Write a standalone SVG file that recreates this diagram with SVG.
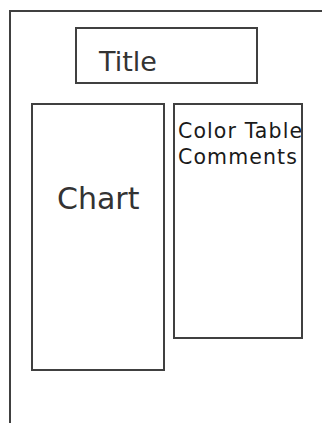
<svg xmlns="http://www.w3.org/2000/svg" width="322" height="423" viewBox="0 0 322 423">
<style>
.box{fill:#fff;stroke:#404040;stroke-width:2}
.frame{fill:none;stroke:#404040;stroke-width:2}
.big{font-family:"DejaVu Sans",Verdana,sans-serif;fill:#333}
.small{font-family:"DejaVu Sans",Verdana,sans-serif;font-size:20.5px;letter-spacing:1.1px;fill:#1a1a1a}
</style>
<defs><clipPath id="ctclip"><rect x="174" y="104" width="127" height="234"/></clipPath></defs>
<rect width="322" height="423" fill="#fff"/>
<g id="frame"><path class="frame" d="M10,423 V11 H322"/></g>
<g id="title"><rect class="box" x="76" y="28" width="181" height="55"/><text class="big" x="99" y="71" font-size="27">Title</text></g>
<g id="chart"><rect class="box" x="32" y="104" width="132" height="266"/><text class="big" x="57" y="209" font-size="30">Chart</text></g>
<g id="colortable"><rect class="box" x="174" y="104" width="128" height="234"/><g clip-path="url(#ctclip)"><text class="small" x="178" y="138">Color Table</text><text class="small" x="178" y="164">Comments</text></g></g>
<g id="connectors"></g>
</svg>
